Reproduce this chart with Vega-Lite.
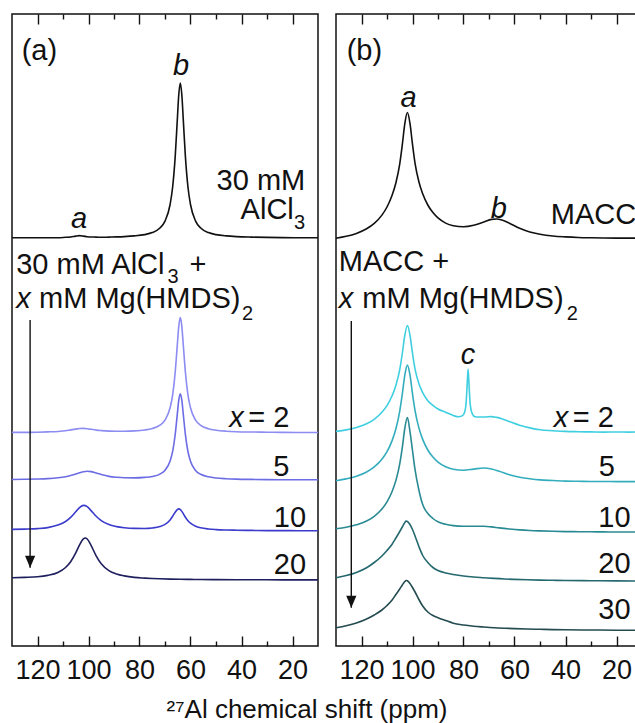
{
  "$schema": "https://vega.github.io/schema/vega-lite/v6.json",
  "background": "white",
  "padding": {"left": 8, "top": 12, "right": 0, "bottom": 0},
  "spacing": 18,
  "bounds": "flush",
  "config": {
    "view": {"stroke": "#111111", "strokeWidth": 1.5},
    "font": "Liberation Sans",
    "axis": {"grid": false, "domain": false, "tickColor": "#111111", "tickWidth": 1.4, "labelColor": "#111111", "labelFont": "Liberation Sans", "labelFontSize": 27}
  },
  "title": {"text": "²⁷Al chemical shift (ppm)", "orient": "bottom", "anchor": "middle", "font": "Liberation Sans", "fontSize": 26, "fontWeight": "normal", "color": "#111111", "offset": 13, "dx": -20},
  "resolve": {"scale": {"color": "independent"}},
  "datasets": {
    "spectraA": [
      {"s":"AlCl3","ppm":130,"y":408.2},{"s":"AlCl3","ppm":125,"y":408.2},{"s":"AlCl3","ppm":120,"y":408.2},{"s":"AlCl3","ppm":116,"y":408.3},{"s":"AlCl3","ppm":112,"y":408.3},{"s":"AlCl3","ppm":109,"y":408.7},{"s":"AlCl3","ppm":107,"y":409.0},{"s":"AlCl3","ppm":105,"y":409.9},{"s":"AlCl3","ppm":103.5,"y":410.4},{"s":"AlCl3","ppm":102,"y":409.9},{"s":"AlCl3","ppm":100.5,"y":409.3},{"s":"AlCl3","ppm":99,"y":409.0},{"s":"AlCl3","ppm":97,"y":408.9},{"s":"AlCl3","ppm":95,"y":408.7},{"s":"AlCl3","ppm":92,"y":408.9},{"s":"AlCl3","ppm":89,"y":409.1},{"s":"AlCl3","ppm":86,"y":409.4},{"s":"AlCl3","ppm":82,"y":410.1},{"s":"AlCl3","ppm":78,"y":411.4},{"s":"AlCl3","ppm":75,"y":413.4},{"s":"AlCl3","ppm":72,"y":418.0},{"s":"AlCl3","ppm":70,"y":424.9},{"s":"AlCl3","ppm":68,"y":441.5},{"s":"AlCl3","ppm":67,"y":459.0},{"s":"AlCl3","ppm":66,"y":489.4},{"s":"AlCl3","ppm":65.2,"y":524.9},{"s":"AlCl3","ppm":64.6,"y":551.2},{"s":"AlCl3","ppm":64,"y":563.0},{"s":"AlCl3","ppm":63.4,"y":551.2},{"s":"AlCl3","ppm":62.8,"y":524.9},{"s":"AlCl3","ppm":62,"y":489.4},{"s":"AlCl3","ppm":61,"y":459.0},{"s":"AlCl3","ppm":60,"y":441.5},{"s":"AlCl3","ppm":58,"y":424.9},{"s":"AlCl3","ppm":56,"y":418.0},{"s":"AlCl3","ppm":53,"y":413.4},{"s":"AlCl3","ppm":50,"y":411.4},{"s":"AlCl3","ppm":46,"y":410.1},{"s":"AlCl3","ppm":42,"y":409.4},{"s":"AlCl3","ppm":36,"y":408.9},{"s":"AlCl3","ppm":30,"y":408.6},{"s":"AlCl3","ppm":24,"y":408.4},{"s":"AlCl3","ppm":18,"y":408.3},{"s":"AlCl3","ppm":10,"y":408.2},
      {"s":"x=2","ppm":130,"y":213.6},{"s":"x=2","ppm":125,"y":213.6},{"s":"x=2","ppm":120,"y":213.8},{"s":"x=2","ppm":116,"y":214.1},{"s":"x=2","ppm":112,"y":214.5},{"s":"x=2","ppm":109,"y":215.2},{"s":"x=2","ppm":107,"y":216.1},{"s":"x=2","ppm":105,"y":216.9},{"s":"x=2","ppm":103.5,"y":217.5},{"s":"x=2","ppm":102,"y":217.6},{"s":"x=2","ppm":100.5,"y":217.3},{"s":"x=2","ppm":99,"y":216.7},{"s":"x=2","ppm":97,"y":215.9},{"s":"x=2","ppm":95,"y":215.4},{"s":"x=2","ppm":92,"y":214.9},{"s":"x=2","ppm":89,"y":214.8},{"s":"x=2","ppm":86,"y":214.8},{"s":"x=2","ppm":82,"y":215.1},{"s":"x=2","ppm":78,"y":216.0},{"s":"x=2","ppm":75,"y":217.5},{"s":"x=2","ppm":72,"y":220.8},{"s":"x=2","ppm":70,"y":225.9},{"s":"x=2","ppm":68,"y":238.2},{"s":"x=2","ppm":67,"y":251.2},{"s":"x=2","ppm":66,"y":273.8},{"s":"x=2","ppm":65.2,"y":300.1},{"s":"x=2","ppm":64.6,"y":319.7},{"s":"x=2","ppm":64,"y":328.4},{"s":"x=2","ppm":63.4,"y":319.7},{"s":"x=2","ppm":62.8,"y":300.1},{"s":"x=2","ppm":62,"y":273.8},{"s":"x=2","ppm":61,"y":251.2},{"s":"x=2","ppm":60,"y":238.2},{"s":"x=2","ppm":58,"y":225.8},{"s":"x=2","ppm":56,"y":220.7},{"s":"x=2","ppm":53,"y":217.3},{"s":"x=2","ppm":50,"y":215.8},{"s":"x=2","ppm":46,"y":214.8},{"s":"x=2","ppm":42,"y":214.3},{"s":"x=2","ppm":36,"y":214.0},{"s":"x=2","ppm":30,"y":213.8},{"s":"x=2","ppm":24,"y":213.6},{"s":"x=2","ppm":18,"y":213.5},{"s":"x=2","ppm":10,"y":213.5},
      {"s":"x=5","ppm":130,"y":166.5},{"s":"x=5","ppm":125,"y":166.7},{"s":"x=5","ppm":120,"y":167.0},{"s":"x=5","ppm":116,"y":167.4},{"s":"x=5","ppm":112,"y":168.2},{"s":"x=5","ppm":109,"y":169.3},{"s":"x=5","ppm":107,"y":170.5},{"s":"x=5","ppm":105,"y":172.0},{"s":"x=5","ppm":103.5,"y":173.2},{"s":"x=5","ppm":102,"y":174.3},{"s":"x=5","ppm":100.5,"y":174.8},{"s":"x=5","ppm":99,"y":174.4},{"s":"x=5","ppm":97,"y":172.9},{"s":"x=5","ppm":95,"y":171.4},{"s":"x=5","ppm":92,"y":169.6},{"s":"x=5","ppm":89,"y":168.7},{"s":"x=5","ppm":86,"y":168.2},{"s":"x=5","ppm":82,"y":168.1},{"s":"x=5","ppm":78,"y":168.6},{"s":"x=5","ppm":75,"y":169.5},{"s":"x=5","ppm":72,"y":171.9},{"s":"x=5","ppm":70,"y":175.8},{"s":"x=5","ppm":68,"y":184.9},{"s":"x=5","ppm":67,"y":194.6},{"s":"x=5","ppm":66,"y":211.5},{"s":"x=5","ppm":65.2,"y":231.1},{"s":"x=5","ppm":64.6,"y":245.8},{"s":"x=5","ppm":64,"y":252.3},{"s":"x=5","ppm":63.4,"y":245.8},{"s":"x=5","ppm":62.8,"y":231.0},{"s":"x=5","ppm":62,"y":211.4},{"s":"x=5","ppm":61,"y":194.5},{"s":"x=5","ppm":60,"y":184.8},{"s":"x=5","ppm":58,"y":175.6},{"s":"x=5","ppm":56,"y":171.7},{"s":"x=5","ppm":53,"y":169.2},{"s":"x=5","ppm":50,"y":168.0},{"s":"x=5","ppm":46,"y":167.3},{"s":"x=5","ppm":42,"y":166.9},{"s":"x=5","ppm":36,"y":166.6},{"s":"x=5","ppm":30,"y":166.4},{"s":"x=5","ppm":24,"y":166.3},{"s":"x=5","ppm":18,"y":166.2},{"s":"x=5","ppm":10,"y":166.2},
      {"s":"x=10","ppm":130,"y":116.6},{"s":"x=10","ppm":125,"y":116.9},{"s":"x=10","ppm":120,"y":117.4},{"s":"x=10","ppm":116,"y":118.4},{"s":"x=10","ppm":112,"y":120.9},{"s":"x=10","ppm":109,"y":124.5},{"s":"x=10","ppm":107,"y":128.6},{"s":"x=10","ppm":105,"y":134.2},{"s":"x=10","ppm":103.5,"y":138.4},{"s":"x=10","ppm":102,"y":140.6},{"s":"x=10","ppm":100.5,"y":139.3},{"s":"x=10","ppm":99,"y":135.4},{"s":"x=10","ppm":97,"y":129.7},{"s":"x=10","ppm":95,"y":125.4},{"s":"x=10","ppm":92,"y":121.4},{"s":"x=10","ppm":89,"y":119.4},{"s":"x=10","ppm":86,"y":118.3},{"s":"x=10","ppm":82,"y":117.6},{"s":"x=10","ppm":78,"y":117.5},{"s":"x=10","ppm":75,"y":118.0},{"s":"x=10","ppm":72,"y":119.4},{"s":"x=10","ppm":70,"y":121.6},{"s":"x=10","ppm":68,"y":126.1},{"s":"x=10","ppm":67,"y":129.7},{"s":"x=10","ppm":66,"y":133.8},{"s":"x=10","ppm":65.2,"y":136.4},{"s":"x=10","ppm":64.6,"y":137.1},{"s":"x=10","ppm":64,"y":136.4},{"s":"x=10","ppm":63.4,"y":134.6},{"s":"x=10","ppm":62.8,"y":132.2},{"s":"x=10","ppm":62,"y":128.8},{"s":"x=10","ppm":61,"y":125.3},{"s":"x=10","ppm":60,"y":122.8},{"s":"x=10","ppm":58,"y":119.8},{"s":"x=10","ppm":56,"y":118.2},{"s":"x=10","ppm":53,"y":117.0},{"s":"x=10","ppm":50,"y":116.4},{"s":"x=10","ppm":46,"y":116.0},{"s":"x=10","ppm":42,"y":115.8},{"s":"x=10","ppm":36,"y":115.6},{"s":"x=10","ppm":30,"y":115.4},{"s":"x=10","ppm":24,"y":115.4},{"s":"x=10","ppm":18,"y":115.3},{"s":"x=10","ppm":10,"y":115.3},
      {"s":"x=20","ppm":130,"y":68.2},{"s":"x=20","ppm":125,"y":68.6},{"s":"x=20","ppm":120,"y":69.2},{"s":"x=20","ppm":116,"y":70.6},{"s":"x=20","ppm":112,"y":73.5},{"s":"x=20","ppm":109,"y":78.5},{"s":"x=20","ppm":107,"y":84.3},{"s":"x=20","ppm":105,"y":93.1},{"s":"x=20","ppm":103.5,"y":101.2},{"s":"x=20","ppm":102,"y":107.2},{"s":"x=20","ppm":101.3,"y":108.0},{"s":"x=20","ppm":100.5,"y":107.0},{"s":"x=20","ppm":99,"y":100.7},{"s":"x=20","ppm":97,"y":90.2},{"s":"x=20","ppm":95,"y":82.3},{"s":"x=20","ppm":92,"y":75.4},{"s":"x=20","ppm":89,"y":72.0},{"s":"x=20","ppm":86,"y":70.1},{"s":"x=20","ppm":82,"y":68.6},{"s":"x=20","ppm":78,"y":67.9},{"s":"x=20","ppm":75,"y":67.5},{"s":"x=20","ppm":72,"y":67.2},{"s":"x=20","ppm":68,"y":66.9},{"s":"x=20","ppm":64,"y":66.7},{"s":"x=20","ppm":60,"y":66.6},{"s":"x=20","ppm":56,"y":66.5},{"s":"x=20","ppm":50,"y":66.4},{"s":"x=20","ppm":42,"y":66.3},{"s":"x=20","ppm":30,"y":66.2},{"s":"x=20","ppm":18,"y":66.15},{"s":"x=20","ppm":10,"y":66.1}
    ],
    "spectraB": [
      {"s":"MACC","ppm":130,"y":407.8},{"s":"MACC","ppm":126,"y":409.7},{"s":"MACC","ppm":122,"y":412.6},{"s":"MACC","ppm":118,"y":417.2},{"s":"MACC","ppm":115,"y":422.6},{"s":"MACC","ppm":112,"y":430.9},{"s":"MACC","ppm":110,"y":439.0},{"s":"MACC","ppm":108,"y":450.7},{"s":"MACC","ppm":106.5,"y":463.3},{"s":"MACC","ppm":105,"y":482.2},{"s":"MACC","ppm":104,"y":501.2},{"s":"MACC","ppm":103,"y":522.6},{"s":"MACC","ppm":102,"y":533.5},{"s":"MACC","ppm":101,"y":522.8},{"s":"MACC","ppm":100,"y":501.6},{"s":"MACC","ppm":99,"y":482.7},{"s":"MACC","ppm":97.5,"y":464.2},{"s":"MACC","ppm":96,"y":452.2},{"s":"MACC","ppm":94,"y":441.0},{"s":"MACC","ppm":92,"y":433.4},{"s":"MACC","ppm":90,"y":428.1},{"s":"MACC","ppm":87,"y":422.9},{"s":"MACC","ppm":84,"y":420.3},{"s":"MACC","ppm":80,"y":419.2},{"s":"MACC","ppm":76,"y":420.7},{"s":"MACC","ppm":72,"y":424.1},{"s":"MACC","ppm":69,"y":426.6},{"s":"MACC","ppm":67,"y":427.0},{"s":"MACC","ppm":65,"y":426.1},{"s":"MACC","ppm":62,"y":422.8},{"s":"MACC","ppm":58,"y":417.8},{"s":"MACC","ppm":54,"y":414.1},{"s":"MACC","ppm":50,"y":411.8},{"s":"MACC","ppm":45,"y":410.0},{"s":"MACC","ppm":40,"y":409.1},{"s":"MACC","ppm":35,"y":408.5},{"s":"MACC","ppm":30,"y":408.2},{"s":"MACC","ppm":25,"y":408.0},{"s":"MACC","ppm":20,"y":407.9},{"s":"MACC","ppm":15,"y":407.9},{"s":"MACC","ppm":10,"y":407.9},
      {"s":"x=2","ppm":130,"y":214.6},{"s":"x=2","ppm":126,"y":216.1},{"s":"x=2","ppm":122,"y":218.5},{"s":"x=2","ppm":118,"y":222.2},{"s":"x=2","ppm":115,"y":226.7},{"s":"x=2","ppm":112,"y":233.7},{"s":"x=2","ppm":110,"y":240.4},{"s":"x=2","ppm":108,"y":250.2},{"s":"x=2","ppm":106.5,"y":260.8},{"s":"x=2","ppm":105,"y":276.4},{"s":"x=2","ppm":104,"y":292.5},{"s":"x=2","ppm":103,"y":311.0},{"s":"x=2","ppm":102,"y":320.5},{"s":"x=2","ppm":101,"y":311.0},{"s":"x=2","ppm":100,"y":292.8},{"s":"x=2","ppm":99,"y":276.9},{"s":"x=2","ppm":97.5,"y":262.4},{"s":"x=2","ppm":96,"y":253.3},{"s":"x=2","ppm":94,"y":245.3},{"s":"x=2","ppm":92,"y":240.6},{"s":"x=2","ppm":90,"y":237.0},{"s":"x=2","ppm":87,"y":233.7},{"s":"x=2","ppm":84,"y":230.5},{"s":"x=2","ppm":82,"y":229.2},{"s":"x=2","ppm":80.5,"y":230.1},{"s":"x=2","ppm":79.5,"y":234.3},{"s":"x=2","ppm":79,"y":242.3},{"s":"x=2","ppm":78.6,"y":259.6},{"s":"x=2","ppm":78.2,"y":277.0},{"s":"x=2","ppm":77.8,"y":259.6},{"s":"x=2","ppm":77.4,"y":242.7},{"s":"x=2","ppm":77,"y":235.8},{"s":"x=2","ppm":76.5,"y":231.9},{"s":"x=2","ppm":75.5,"y":229.3},{"s":"x=2","ppm":74,"y":229.0},{"s":"x=2","ppm":72,"y":229.0},{"s":"x=2","ppm":69,"y":229.4},{"s":"x=2","ppm":67,"y":228.6},{"s":"x=2","ppm":65,"y":227.3},{"s":"x=2","ppm":62,"y":224.4},{"s":"x=2","ppm":58,"y":220.7},{"s":"x=2","ppm":54,"y":218.1},{"s":"x=2","ppm":50,"y":216.2},{"s":"x=2","ppm":45,"y":215.3},{"s":"x=2","ppm":40,"y":214.6},{"s":"x=2","ppm":35,"y":214.3},{"s":"x=2","ppm":30,"y":214.1},{"s":"x=2","ppm":25,"y":213.9},{"s":"x=2","ppm":20,"y":214.0},{"s":"x=2","ppm":15,"y":213.9},{"s":"x=2","ppm":10,"y":214.0},
      {"s":"x=5","ppm":130,"y":165.3},{"s":"x=5","ppm":126,"y":167.1},{"s":"x=5","ppm":122,"y":169.7},{"s":"x=5","ppm":118,"y":174.0},{"s":"x=5","ppm":115,"y":179.1},{"s":"x=5","ppm":112,"y":186.8},{"s":"x=5","ppm":110,"y":194.3},{"s":"x=5","ppm":108,"y":205.4},{"s":"x=5","ppm":106.5,"y":217.2},{"s":"x=5","ppm":105,"y":234.9},{"s":"x=5","ppm":104,"y":251.8},{"s":"x=5","ppm":103,"y":271.1},{"s":"x=5","ppm":102,"y":280.9},{"s":"x=5","ppm":101,"y":271.3},{"s":"x=5","ppm":100,"y":252.2},{"s":"x=5","ppm":99,"y":235.4},{"s":"x=5","ppm":97.5,"y":218.1},{"s":"x=5","ppm":96,"y":206.6},{"s":"x=5","ppm":94,"y":196.0},{"s":"x=5","ppm":92,"y":188.9},{"s":"x=5","ppm":90,"y":183.9},{"s":"x=5","ppm":87,"y":179.2},{"s":"x=5","ppm":84,"y":176.7},{"s":"x=5","ppm":80,"y":175.8},{"s":"x=5","ppm":76,"y":176.9},{"s":"x=5","ppm":72,"y":178.0},{"s":"x=5","ppm":69,"y":177.0},{"s":"x=5","ppm":66,"y":174.7},{"s":"x=5","ppm":62,"y":171.2},{"s":"x=5","ppm":58,"y":168.8},{"s":"x=5","ppm":54,"y":167.2},{"s":"x=5","ppm":50,"y":166.1},{"s":"x=5","ppm":45,"y":165.5},{"s":"x=5","ppm":40,"y":164.9},{"s":"x=5","ppm":35,"y":164.7},{"s":"x=5","ppm":30,"y":164.5},{"s":"x=5","ppm":25,"y":164.5},{"s":"x=5","ppm":20,"y":164.4},{"s":"x=5","ppm":15,"y":164.4},{"s":"x=5","ppm":10,"y":164.4},
      {"s":"x=10","ppm":130,"y":117.2},{"s":"x=10","ppm":126,"y":118.7},{"s":"x=10","ppm":122,"y":121.2},{"s":"x=10","ppm":118,"y":125.0},{"s":"x=10","ppm":115,"y":129.7},{"s":"x=10","ppm":112,"y":137.0},{"s":"x=10","ppm":110,"y":144.1},{"s":"x=10","ppm":108,"y":154.5},{"s":"x=10","ppm":106.5,"y":165.6},{"s":"x=10","ppm":105,"y":182.2},{"s":"x=10","ppm":104,"y":198.4},{"s":"x=10","ppm":103,"y":218.0},{"s":"x=10","ppm":102,"y":228.5},{"s":"x=10","ppm":101,"y":214.7},{"s":"x=10","ppm":100,"y":195.5},{"s":"x=10","ppm":99,"y":176.3},{"s":"x=10","ppm":97.5,"y":156.0},{"s":"x=10","ppm":96,"y":141.4},{"s":"x=10","ppm":94,"y":132.5},{"s":"x=10","ppm":92,"y":127.5},{"s":"x=10","ppm":90,"y":124.2},{"s":"x=10","ppm":87,"y":121.7},{"s":"x=10","ppm":84,"y":120.4},{"s":"x=10","ppm":80,"y":119.8},{"s":"x=10","ppm":76,"y":119.8},{"s":"x=10","ppm":72,"y":119.8},{"s":"x=10","ppm":69,"y":119.1},{"s":"x=10","ppm":66,"y":118.1},{"s":"x=10","ppm":62,"y":117.0},{"s":"x=10","ppm":58,"y":116.1},{"s":"x=10","ppm":54,"y":115.5},{"s":"x=10","ppm":50,"y":115.1},{"s":"x=10","ppm":45,"y":114.7},{"s":"x=10","ppm":40,"y":114.4},{"s":"x=10","ppm":35,"y":114.3},{"s":"x=10","ppm":30,"y":114.2},{"s":"x=10","ppm":25,"y":114.1},{"s":"x=10","ppm":20,"y":114.0},{"s":"x=10","ppm":15,"y":114.0},{"s":"x=10","ppm":10,"y":114.0},
      {"s":"x=20","ppm":130,"y":68.3},{"s":"x=20","ppm":126,"y":70.4},{"s":"x=20","ppm":122,"y":73.6},{"s":"x=20","ppm":118,"y":78.3},{"s":"x=20","ppm":115,"y":83.5},{"s":"x=20","ppm":112,"y":90.0},{"s":"x=20","ppm":110,"y":95.5},{"s":"x=20","ppm":108,"y":101.8},{"s":"x=20","ppm":106.5,"y":108.0},{"s":"x=20","ppm":105,"y":114.5},{"s":"x=20","ppm":104,"y":119.0},{"s":"x=20","ppm":103,"y":123.5},{"s":"x=20","ppm":102.5,"y":125.0},{"s":"x=20","ppm":102,"y":124.5},{"s":"x=20","ppm":101,"y":121.5},{"s":"x=20","ppm":100,"y":116.5},{"s":"x=20","ppm":99,"y":110.0},{"s":"x=20","ppm":97.5,"y":99.5},{"s":"x=20","ppm":96,"y":90.5},{"s":"x=20","ppm":94,"y":83.5},{"s":"x=20","ppm":92,"y":78.5},{"s":"x=20","ppm":90,"y":75.5},{"s":"x=20","ppm":87,"y":73.0},{"s":"x=20","ppm":84,"y":71.5},{"s":"x=20","ppm":80,"y":70.0},{"s":"x=20","ppm":76,"y":69.0},{"s":"x=20","ppm":72,"y":68.3},{"s":"x=20","ppm":68,"y":67.6},{"s":"x=20","ppm":64,"y":67.0},{"s":"x=20","ppm":60,"y":66.6},{"s":"x=20","ppm":55,"y":66.2},{"s":"x=20","ppm":50,"y":65.9},{"s":"x=20","ppm":45,"y":65.7},{"s":"x=20","ppm":40,"y":65.5},{"s":"x=20","ppm":30,"y":65.3},{"s":"x=20","ppm":20,"y":65.1},{"s":"x=20","ppm":10,"y":65.0},
      {"s":"x=30","ppm":130,"y":18.3},{"s":"x=30","ppm":126,"y":20.3},{"s":"x=30","ppm":122,"y":23.0},{"s":"x=30","ppm":118,"y":27.0},{"s":"x=30","ppm":115,"y":31.0},{"s":"x=30","ppm":112,"y":36.0},{"s":"x=30","ppm":110,"y":40.5},{"s":"x=30","ppm":108,"y":46.0},{"s":"x=30","ppm":106.5,"y":51.5},{"s":"x=30","ppm":105,"y":57.0},{"s":"x=30","ppm":104,"y":61.0},{"s":"x=30","ppm":103,"y":64.5},{"s":"x=30","ppm":102.5,"y":65.5},{"s":"x=30","ppm":102,"y":65.2},{"s":"x=30","ppm":101,"y":62.5},{"s":"x=30","ppm":100,"y":58.5},{"s":"x=30","ppm":99,"y":54.0},{"s":"x=30","ppm":97.5,"y":46.5},{"s":"x=30","ppm":96,"y":40.0},{"s":"x=30","ppm":94,"y":34.0},{"s":"x=30","ppm":92,"y":30.5},{"s":"x=30","ppm":90,"y":28.3},{"s":"x=30","ppm":87,"y":25.5},{"s":"x=30","ppm":84,"y":22.8},{"s":"x=30","ppm":80,"y":21.0},{"s":"x=30","ppm":76,"y":19.8},{"s":"x=30","ppm":72,"y":19.0},{"s":"x=30","ppm":68,"y":18.3},{"s":"x=30","ppm":64,"y":17.8},{"s":"x=30","ppm":60,"y":17.4},{"s":"x=30","ppm":55,"y":17.0},{"s":"x=30","ppm":50,"y":16.7},{"s":"x=30","ppm":45,"y":16.4},{"s":"x=30","ppm":40,"y":16.2},{"s":"x=30","ppm":30,"y":16.0},{"s":"x=30","ppm":20,"y":15.8},{"s":"x=30","ppm":10,"y":15.7}
    ],
    "labelsA": [
      {"role":"panel","t":"(a)","ppm":126.2,"y":586},
      {"role":"site","t":"b","ppm":63.7,"y":571},
      {"role":"site","t":"a","ppm":103.7,"y":418},
      {"role":"sample","t":"30 mM","ppm":15.0,"y":456},
      {"role":"sample","t":"AlCl","ppm":19.5,"y":427},
      {"role":"subscript","t":"3","ppm":19.4,"y":417},
      {"role":"mixture","t":"30 mM AlCl","ppm":128.35,"y":372},
      {"role":"subscript","t":"3","ppm":69.0,"y":363},
      {"role":"mixture","t":"+","ppm":60.4,"y":372},
      {"role":"variable","t":"x","ppm":128.35,"y":338},
      {"role":"mixture","t":"mM Mg(HMDS)","ppm":119.4,"y":338},
      {"role":"subscript","t":"2","ppm":39.8,"y":326},
      {"role":"variable","t":"x","ppm":44.8,"y":219.3},
      {"role":"amount","t":"= 2","ppm":21.2,"y":219.3},
      {"role":"amount","t":"5","ppm":21.2,"y":170},
      {"role":"amount","t":"10","ppm":14.7,"y":119},
      {"role":"amount","t":"20","ppm":14.7,"y":72}
    ],
    "labelsB": [
      {"role":"panel","t":"(b)","ppm":125.8,"y":586},
      {"role":"site","t":"a","ppm":101.5,"y":539},
      {"role":"site","t":"b","ppm":66.2,"y":428},
      {"role":"site","t":"c","ppm":78.2,"y":282},
      {"role":"sample","t":"MACC","ppm":12.3,"y":422},
      {"role":"mixture","t":"MACC +","ppm":128.9,"y":375},
      {"role":"variable","t":"x","ppm":128.9,"y":338},
      {"role":"mixture","t":"mM Mg(HMDS)","ppm":119.7,"y":338},
      {"role":"subscript","t":"2","ppm":39.5,"y":326},
      {"role":"variable","t":"x","ppm":44.6,"y":219.3},
      {"role":"amount","t":"= 2","ppm":21.0,"y":219.3},
      {"role":"amount","t":"5","ppm":20.6,"y":170},
      {"role":"amount","t":"10","ppm":14.5,"y":119},
      {"role":"amount","t":"20","ppm":14.5,"y":73.3},
      {"role":"amount","t":"30","ppm":14.5,"y":26.7}
    ],
    "arrowA": [{"ppm":122.9,"top":326,"tip":78.3}],
    "arrowB": [{"ppm":124.0,"top":325,"tip":38.3}]
  },
  "hconcat": [
    {
      "width": 306,
      "height": 632,
      "resolve": {"axis": {"x": "independent"}},
      "layer": [
        {
          "data": {"name": "spectraA"},
          "mark": {"type": "line", "strokeWidth": 1.6, "interpolate": "monotone"},
          "encoding": {
            "x": {"field": "ppm", "type": "quantitative", "scale": {"domain": [10, 130], "reverse": true, "nice": false, "zero": false},
                  "axis": {"orient": "bottom", "values": [120, 100, 80, 60, 40, 20], "tickSize": -10, "labelPadding": 21, "labelFlush": false, "labelOverlap": false, "title": null}},
            "y": {"field": "y", "type": "quantitative", "scale": {"domain": [0, 632], "nice": false, "zero": false}, "axis": null},
            "color": {"field": "s", "type": "nominal", "scale": {"domain": ["AlCl3", "x=2", "x=5", "x=10", "x=20"], "range": ["#111111", "#8c8cf2", "#6c6ce4", "#3b3bcc", "#1f1f5e"]}, "legend": null}
          }
        },
        {
          "data": {"name": "arrowA"},
          "mark": {"type": "rule", "color": "#111111", "strokeWidth": 1.4},
          "encoding": {
            "x": {"field": "ppm", "type": "quantitative", "scale": {"domain": [10, 130], "reverse": true, "nice": false, "zero": false},
                  "axis": {"orient": "bottom", "values": [110, 90, 70, 50, 30], "tickSize": -5, "labels": false, "title": null}},
            "y": {"field": "top", "type": "quantitative", "scale": {"domain": [0, 632], "nice": false, "zero": false}, "axis": null},
            "y2": {"field": "tip"}
          }
        },
        {
          "data": {"name": "arrowA"},
          "mark": {"type": "point", "shape": "M-0.85,-1L0.85,-1L0,1Z", "size": 144, "filled": true, "opacity": 1, "color": "#111111", "yOffset": -6},
          "encoding": {
            "x": {"field": "ppm", "type": "quantitative", "scale": {"domain": [10, 130], "reverse": true, "nice": false, "zero": false},
                  "axis": {"orient": "top", "values": [120, 100, 80, 60, 40, 20], "tickSize": -10, "labels": false, "title": null}},
            "y": {"field": "tip", "type": "quantitative", "scale": {"domain": [0, 632], "nice": false, "zero": false}, "axis": null}
          }
        },
        {
          "data": {"name": "labelsA"},
          "transform": [{"filter": "datum.role === 'panel' || datum.role === 'mixture'"}],
          "mark": {"type": "text", "align": "left", "baseline": "alphabetic", "fontSize": 29, "color": "#111111"},
          "encoding": {
            "x": {"field": "ppm", "type": "quantitative", "scale": {"domain": [10, 130], "reverse": true, "nice": false, "zero": false},
                  "axis": {"orient": "top", "values": [110, 90, 70, 50, 30], "tickSize": -5, "labels": false, "title": null}},
            "y": {"field": "y", "type": "quantitative", "scale": {"domain": [0, 632], "nice": false, "zero": false}, "axis": null},
            "text": {"field": "t"}
          }
        },
        {
          "data": {"name": "labelsA"},
          "transform": [{"filter": "datum.role === 'subscript'"}],
          "mark": {"type": "text", "align": "left", "baseline": "alphabetic", "fontSize": 20, "color": "#111111"},
          "encoding": {
            "x": {"field": "ppm", "type": "quantitative", "scale": {"domain": [10, 130], "reverse": true, "nice": false, "zero": false}, "axis": null},
            "y": {"field": "y", "type": "quantitative", "scale": {"domain": [0, 632], "nice": false, "zero": false}, "axis": null},
            "text": {"field": "t"}
          }
        },
        {
          "data": {"name": "labelsA"},
          "transform": [{"filter": "datum.role === 'sample' || datum.role === 'amount'"}],
          "mark": {"type": "text", "align": "right", "baseline": "alphabetic", "fontSize": 29, "color": "#111111"},
          "encoding": {
            "x": {"field": "ppm", "type": "quantitative", "scale": {"domain": [10, 130], "reverse": true, "nice": false, "zero": false}, "axis": null},
            "y": {"field": "y", "type": "quantitative", "scale": {"domain": [0, 632], "nice": false, "zero": false}, "axis": null},
            "text": {"field": "t"}
          }
        },
        {
          "data": {"name": "labelsA"},
          "transform": [{"filter": "datum.role === 'variable'"}],
          "mark": {"type": "text", "align": "left", "baseline": "alphabetic", "fontSize": 29, "fontStyle": "italic", "color": "#111111"},
          "encoding": {
            "x": {"field": "ppm", "type": "quantitative", "scale": {"domain": [10, 130], "reverse": true, "nice": false, "zero": false}, "axis": null},
            "y": {"field": "y", "type": "quantitative", "scale": {"domain": [0, 632], "nice": false, "zero": false}, "axis": null},
            "text": {"field": "t"}
          }
        },
        {
          "data": {"name": "labelsA"},
          "transform": [{"filter": "datum.role === 'site'"}],
          "mark": {"type": "text", "align": "center", "baseline": "alphabetic", "fontSize": 29, "fontStyle": "italic", "color": "#111111"},
          "encoding": {
            "x": {"field": "ppm", "type": "quantitative", "scale": {"domain": [10, 130], "reverse": true, "nice": false, "zero": false}, "axis": null},
            "y": {"field": "y", "type": "quantitative", "scale": {"domain": [0, 632], "nice": false, "zero": false}, "axis": null},
            "text": {"field": "t"}
          }
        }
      ]
    },
    {
      "width": 306,
      "height": 632,
      "resolve": {"axis": {"x": "independent"}},
      "layer": [
        {
          "data": {"name": "spectraB"},
          "mark": {"type": "line", "strokeWidth": 1.6, "interpolate": "monotone"},
          "encoding": {
            "x": {"field": "ppm", "type": "quantitative", "scale": {"domain": [10, 130], "reverse": true, "nice": false, "zero": false},
                  "axis": {"orient": "bottom", "values": [120, 100, 80, 60, 40, 20], "tickSize": -10, "labelPadding": 21, "labelFlush": false, "labelOverlap": false, "title": null}},
            "y": {"field": "y", "type": "quantitative", "scale": {"domain": [0, 632], "nice": false, "zero": false}, "axis": null},
            "color": {"field": "s", "type": "nominal", "scale": {"domain": ["MACC", "x=2", "x=5", "x=10", "x=20", "x=30"], "range": ["#111111", "#3fcfe0", "#33adbd", "#2a8a94", "#25696f", "#234b50"]}, "legend": null}
          }
        },
        {
          "data": {"name": "arrowB"},
          "mark": {"type": "rule", "color": "#111111", "strokeWidth": 1.4},
          "encoding": {
            "x": {"field": "ppm", "type": "quantitative", "scale": {"domain": [10, 130], "reverse": true, "nice": false, "zero": false},
                  "axis": {"orient": "bottom", "values": [110, 90, 70, 50, 30], "tickSize": -5, "labels": false, "title": null}},
            "y": {"field": "top", "type": "quantitative", "scale": {"domain": [0, 632], "nice": false, "zero": false}, "axis": null},
            "y2": {"field": "tip"}
          }
        },
        {
          "data": {"name": "arrowB"},
          "mark": {"type": "point", "shape": "M-0.85,-1L0.85,-1L0,1Z", "size": 144, "filled": true, "opacity": 1, "color": "#111111", "yOffset": -6},
          "encoding": {
            "x": {"field": "ppm", "type": "quantitative", "scale": {"domain": [10, 130], "reverse": true, "nice": false, "zero": false},
                  "axis": {"orient": "top", "values": [120, 100, 80, 60, 40, 20], "tickSize": -10, "labels": false, "title": null}},
            "y": {"field": "tip", "type": "quantitative", "scale": {"domain": [0, 632], "nice": false, "zero": false}, "axis": null}
          }
        },
        {
          "data": {"name": "labelsB"},
          "transform": [{"filter": "datum.role === 'panel' || datum.role === 'mixture'"}],
          "mark": {"type": "text", "align": "left", "baseline": "alphabetic", "fontSize": 29, "color": "#111111"},
          "encoding": {
            "x": {"field": "ppm", "type": "quantitative", "scale": {"domain": [10, 130], "reverse": true, "nice": false, "zero": false},
                  "axis": {"orient": "top", "values": [110, 90, 70, 50, 30], "tickSize": -5, "labels": false, "title": null}},
            "y": {"field": "y", "type": "quantitative", "scale": {"domain": [0, 632], "nice": false, "zero": false}, "axis": null},
            "text": {"field": "t"}
          }
        },
        {
          "data": {"name": "labelsB"},
          "transform": [{"filter": "datum.role === 'subscript'"}],
          "mark": {"type": "text", "align": "left", "baseline": "alphabetic", "fontSize": 20, "color": "#111111"},
          "encoding": {
            "x": {"field": "ppm", "type": "quantitative", "scale": {"domain": [10, 130], "reverse": true, "nice": false, "zero": false}, "axis": null},
            "y": {"field": "y", "type": "quantitative", "scale": {"domain": [0, 632], "nice": false, "zero": false}, "axis": null},
            "text": {"field": "t"}
          }
        },
        {
          "data": {"name": "labelsB"},
          "transform": [{"filter": "datum.role === 'sample' || datum.role === 'amount'"}],
          "mark": {"type": "text", "align": "right", "baseline": "alphabetic", "fontSize": 29, "color": "#111111"},
          "encoding": {
            "x": {"field": "ppm", "type": "quantitative", "scale": {"domain": [10, 130], "reverse": true, "nice": false, "zero": false}, "axis": null},
            "y": {"field": "y", "type": "quantitative", "scale": {"domain": [0, 632], "nice": false, "zero": false}, "axis": null},
            "text": {"field": "t"}
          }
        },
        {
          "data": {"name": "labelsB"},
          "transform": [{"filter": "datum.role === 'variable'"}],
          "mark": {"type": "text", "align": "left", "baseline": "alphabetic", "fontSize": 29, "fontStyle": "italic", "color": "#111111"},
          "encoding": {
            "x": {"field": "ppm", "type": "quantitative", "scale": {"domain": [10, 130], "reverse": true, "nice": false, "zero": false}, "axis": null},
            "y": {"field": "y", "type": "quantitative", "scale": {"domain": [0, 632], "nice": false, "zero": false}, "axis": null},
            "text": {"field": "t"}
          }
        },
        {
          "data": {"name": "labelsB"},
          "transform": [{"filter": "datum.role === 'site'"}],
          "mark": {"type": "text", "align": "center", "baseline": "alphabetic", "fontSize": 29, "fontStyle": "italic", "color": "#111111"},
          "encoding": {
            "x": {"field": "ppm", "type": "quantitative", "scale": {"domain": [10, 130], "reverse": true, "nice": false, "zero": false}, "axis": null},
            "y": {"field": "y", "type": "quantitative", "scale": {"domain": [0, 632], "nice": false, "zero": false}, "axis": null},
            "text": {"field": "t"}
          }
        }
      ]
    }
  ]
}
